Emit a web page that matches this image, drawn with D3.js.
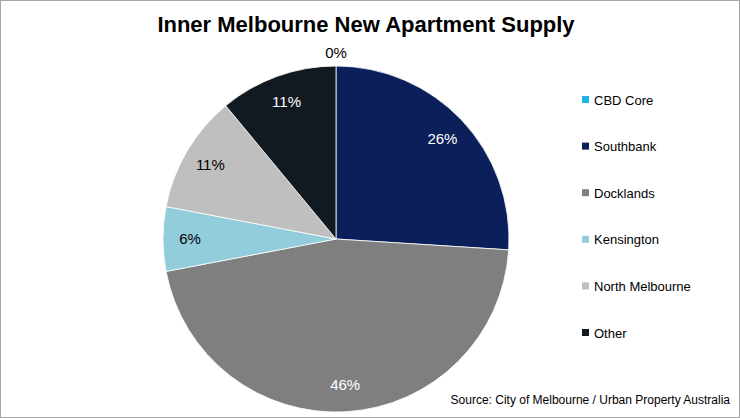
<!DOCTYPE html><html><head><script src="https://cdn.jsdelivr.net/npm/d3@7"></script>
<style>body{margin:0;background:#fff}svg{display:block}text{font-family:Arial,"Liberation Sans",sans-serif}</style></head><body>
<script>
const categories=["CBD Core","Southbank","Docklands","Kensington","North Melbourne","Other"];
const values=[0,26,46,6,11,11];
const colors=["#1cb5e6","#0b1f5a","#7f7f7f","#92cddc","#bfbfbf","#121a21"];
const labelColors=["#000","#fff","#fff","#000","#000","#fff"];
const W=740,H=418,cx=336,cy=239,R=173;
const svg=d3.select("body").append("svg").attr("width",W).attr("height",H);
svg.append("rect").attr("x",0.5).attr("y",0.5).attr("width",W-1).attr("height",H-1).attr("fill","#fff").attr("stroke","#a6a6a6");
svg.append("text").attr("x",366).attr("y",32).attr("text-anchor","middle").attr("font-size",22).attr("font-weight","bold").text("Inner Melbourne New Apartment Supply");
const data=categories.map((c,i)=>({c,v:values[i],i}));
const arcs=d3.pie().sort(null).value(d=>d.v)(data);
const g=svg.append("g").attr("transform",`translate(${cx},${cy})`);
const arc=d3.arc().innerRadius(0).outerRadius(R);
g.selectAll("path").data(arcs).join("path").attr("d",arc).attr("fill",d=>colors[d.data.i]).attr("stroke","#fff").attr("stroke-width",0.8);
const lab=d3.arc().innerRadius(146).outerRadius(146);
const labOut=d3.arc().innerRadius(186).outerRadius(186);
g.selectAll("text").data(arcs).join("text")
 .attr("transform",d=>`translate(${(d.data.v===0?labOut:lab).centroid(d)})`)
 .attr("text-anchor","middle").attr("dy","0.35em").attr("font-size",15)
 .attr("fill",d=>d.data.v===0?"#000":labelColors[d.data.i]).text(d=>d.data.v+"%");
const lg=svg.append("g");
categories.forEach((c,i)=>{const y=100+i*46.6;
 lg.append("rect").attr("x",582).attr("y",y-4).attr("width",7).attr("height",7).attr("fill",colors[i]);
 lg.append("text").attr("x",594).attr("y",y).attr("dy","0.35em").attr("font-size",13).text(c);});
svg.append("text").attr("x",730).attr("y",404).attr("text-anchor","end").attr("font-size",12).text("Source: City of Melbourne / Urban Property Australia");
</script></body></html>
